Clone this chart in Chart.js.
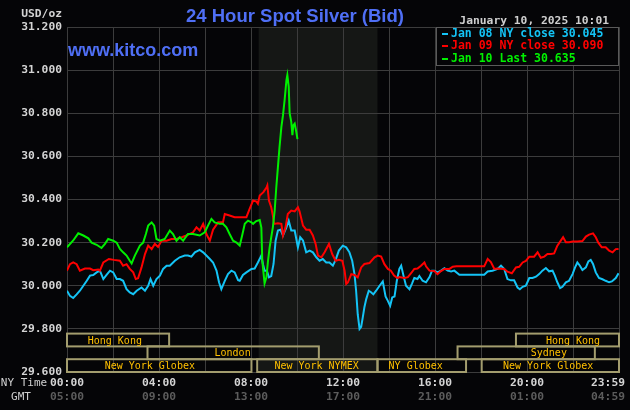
<!DOCTYPE html>
<html><head><meta charset="utf-8">
<script src="https://cdn.jsdelivr.net/npm/chart.js@4.4.1/dist/chart.umd.min.js"></script>
<style>html,body{margin:0;padding:0;background:#050507;}canvas{display:block}</style>
</head><body>
<canvas id="c" width="630" height="410"></canvas>
<script>
// ---- data (hours after midnight NY time, price USD/oz) ----
const jan08Hours = [0.00,0.13,0.27,0.42,0.56,0.71,0.86,1.00,1.14,1.29,1.43,1.58,1.72,1.87,2.01,2.16,2.30,2.44,2.59,2.73,2.88,3.03,3.24,3.39,3.53,3.63,3.75,3.89,4.04,4.18,4.33,4.47,4.69,4.90,5.12,5.26,5.41,5.56,5.77,5.92,6.06,6.21,6.35,6.50,6.61,6.71,6.86,7.00,7.15,7.29,7.44,7.51,7.65,7.80,8.02,8.16,8.30,8.45,8.52,8.59,8.69,8.78,8.88,8.98,9.07,9.17,9.28,9.39,9.54,9.64,9.75,9.90,10.04,10.14,10.26,10.40,10.55,10.69,10.84,10.98,11.12,11.27,11.41,11.56,11.68,11.82,11.99,12.14,12.28,12.40,12.50,12.57,12.64,12.72,12.79,12.86,12.93,13.01,13.12,13.22,13.32,13.44,13.59,13.73,13.85,13.95,14.05,14.14,14.24,14.34,14.45,14.53,14.63,14.74,14.89,15.00,15.10,15.24,15.32,15.46,15.61,15.76,15.87,15.97,16.11,16.26,16.41,16.55,16.70,16.84,17.06,17.35,17.78,18.14,18.29,18.50,18.72,18.87,19.01,19.15,19.30,19.44,19.59,19.69,19.81,19.95,20.10,20.24,20.39,20.53,20.67,20.82,20.96,21.11,21.21,21.32,21.44,21.54,21.69,21.83,21.98,22.09,22.19,22.30,22.41,22.56,22.67,22.77,22.87,22.99,23.13,23.28,23.42,23.57,23.69,23.86,23.98];
const jan08Values = [29.977,29.953,29.943,29.960,29.977,30.000,30.023,30.047,30.050,30.062,30.070,30.031,30.050,30.070,30.062,30.031,30.031,30.023,29.984,29.969,29.961,29.977,29.992,29.977,30.000,30.031,30.000,30.031,30.047,30.078,30.093,30.093,30.116,30.132,30.140,30.140,30.135,30.155,30.166,30.155,30.140,30.124,30.108,30.070,30.016,29.984,30.023,30.054,30.070,30.062,30.026,30.023,30.050,30.062,30.078,30.080,30.108,30.140,30.100,30.070,30.070,30.039,30.045,30.101,30.209,30.256,30.260,30.233,30.271,30.302,30.256,30.256,30.178,30.225,30.210,30.155,30.163,30.155,30.132,30.116,30.124,30.108,30.108,30.093,30.120,30.163,30.186,30.178,30.155,30.116,30.054,29.977,29.868,29.800,29.810,29.853,29.900,29.938,29.977,29.970,29.960,29.977,30.000,30.020,29.950,29.930,29.907,29.946,29.950,30.023,30.078,30.093,30.047,30.000,29.984,30.010,30.036,30.031,30.045,30.023,30.016,30.040,30.070,30.070,30.062,30.070,30.081,30.070,30.066,30.070,30.051,30.051,30.051,30.051,30.066,30.070,30.078,30.093,30.078,30.031,30.025,30.025,29.992,29.984,29.995,30.000,30.036,30.036,30.042,30.054,30.070,30.082,30.067,30.070,30.047,30.016,29.989,29.995,30.016,30.023,30.054,30.085,30.108,30.093,30.073,30.085,30.113,30.120,30.101,30.062,30.036,30.030,30.023,30.016,30.020,30.036,30.058];

const jan09Hours = [0.00,0.13,0.27,0.42,0.56,0.78,1.00,1.14,1.36,1.43,1.58,1.82,2.04,2.30,2.44,2.59,2.73,2.88,2.99,3.09,3.24,3.39,3.53,3.68,3.82,3.96,4.11,4.33,4.54,4.77,4.99,5.19,5.48,5.63,5.77,5.92,6.06,6.21,6.35,6.57,6.78,6.86,7.07,7.29,7.58,7.80,7.94,8.09,8.24,8.30,8.38,8.54,8.68,8.71,8.78,8.88,8.95,9.00,9.17,9.32,9.39,9.50,9.60,9.75,9.90,10.04,10.11,10.26,10.40,10.55,10.69,10.81,10.91,11.06,11.20,11.39,11.53,11.68,11.82,11.97,12.07,12.14,12.21,12.36,12.50,12.64,12.79,12.93,13.15,13.37,13.51,13.66,13.80,13.95,14.08,14.22,14.37,14.45,14.67,14.82,14.96,15.10,15.24,15.39,15.54,15.61,15.76,15.97,16.11,16.26,16.41,16.63,16.77,16.93,17.21,17.49,17.92,18.14,18.29,18.43,18.58,18.72,19.01,19.15,19.34,19.52,19.66,19.81,19.95,20.10,20.31,20.46,20.60,20.75,20.89,21.04,21.18,21.32,21.47,21.57,21.69,21.83,21.98,22.19,22.41,22.56,22.70,22.87,22.99,23.10,23.25,23.42,23.57,23.72,23.86,23.98];
const jan09Values = [30.070,30.100,30.108,30.100,30.070,30.080,30.080,30.072,30.075,30.070,30.108,30.124,30.120,30.116,30.093,30.100,30.078,30.062,30.031,30.035,30.085,30.147,30.186,30.170,30.194,30.180,30.209,30.209,30.217,30.217,30.225,30.233,30.248,30.271,30.256,30.287,30.240,30.209,30.260,30.294,30.294,30.333,30.326,30.318,30.318,30.318,30.357,30.395,30.390,30.380,30.418,30.434,30.457,30.465,30.395,30.364,30.326,30.287,30.290,30.287,30.233,30.271,30.333,30.349,30.345,30.364,30.345,30.279,30.260,30.260,30.233,30.194,30.140,30.132,30.155,30.194,30.147,30.116,30.120,30.116,30.070,30.008,30.015,30.054,30.050,30.039,30.085,30.101,30.105,30.132,30.140,30.135,30.100,30.078,30.070,30.047,30.036,30.040,30.036,30.040,30.058,30.078,30.080,30.093,30.108,30.090,30.070,30.068,30.054,30.068,30.078,30.078,30.088,30.090,30.090,30.090,30.090,30.090,30.124,30.110,30.078,30.080,30.078,30.065,30.058,30.085,30.088,30.108,30.115,30.135,30.135,30.155,30.130,30.135,30.147,30.147,30.150,30.186,30.209,30.225,30.202,30.202,30.205,30.205,30.207,30.228,30.237,30.243,30.225,30.200,30.178,30.178,30.163,30.155,30.170,30.171];

const jan10Hours = [0.00,0.27,0.49,0.71,0.93,1.07,1.29,1.50,1.65,1.79,2.01,2.16,2.30,2.44,2.59,2.73,2.81,2.95,3.17,3.31,3.43,3.53,3.68,3.79,3.89,4.04,4.25,4.47,4.61,4.76,4.90,5.05,5.26,5.48,5.77,5.99,6.13,6.28,6.42,6.64,6.78,6.93,7.07,7.22,7.37,7.51,7.63,7.73,7.87,8.02,8.09,8.23,8.38,8.45,8.49,8.55,8.59,8.67,8.74,8.81,8.88,8.95,9.03,9.10,9.17,9.24,9.32,9.39,9.46,9.54,9.58,9.64,9.68,9.75,9.80,9.84,9.90,9.97,10.02];
const jan10Values = [30.178,30.210,30.243,30.233,30.220,30.200,30.190,30.175,30.194,30.217,30.209,30.200,30.171,30.155,30.140,30.116,30.104,30.140,30.186,30.200,30.240,30.279,30.294,30.279,30.217,30.209,30.217,30.256,30.240,30.209,30.225,30.209,30.240,30.240,30.233,30.248,30.279,30.310,30.294,30.287,30.287,30.271,30.240,30.209,30.200,30.186,30.240,30.287,30.302,30.294,30.287,30.300,30.305,30.270,30.116,30.054,30.011,30.039,30.116,30.178,30.225,30.271,30.349,30.457,30.550,30.643,30.736,30.790,30.860,30.953,30.977,30.922,30.800,30.760,30.698,30.744,30.752,30.713,30.680];

const seriesNames = ['Jan 08 NY close 30.045', 'Jan 09 NY close 30.090', 'Jan 10 Last 30.635'];
const seriesColors = ['#14c4f6', '#ff0000', '#00f000'];

const gridHours = [0,2,4,6,8,10,12,14,16,18,20,22,24];
const labelHours = [0,4,8,12,16,20];
const nyTimeLabels = ['00:00','04:00','08:00','12:00','16:00','20:00','23:59'];
const gmtLabels = ['05:00','09:00','13:00','17:00','21:00','01:00','04:59'];

const nymexStart = 8.333, nymexEnd = 13.5;

const sessionNames = ['Hong Kong','London','New York Globex','New York NYMEX','NY Globex','New York Globex','Hong Kong','Sydney'];
const sessionStart = [0, 3.5, 0, 8.27, 13.5, 18.03, 19.52, 16.98];
const sessionEnd   = [4.44, 10.95, 8.02, 13.5, 17.35, 24, 24, 22.95];
const sessionRow   = [0, 1, 2, 2, 2, 2, 0, 1];
const sessionLabelAt = [2.08, 7.2, 3.6, 10.85, 15.16, 20.92, 22.0, 20.95];

const MONO = '"DejaVu Sans Mono", monospace';
const SANS = '"Liberation Sans", Arial, sans-serif';

function pts(h, v) { return h.map((x, i) => ({x: x, y: v[i]})); }

const bgPlugin = {
  id: 'bg',
  beforeDraw(chart) {
    const c = chart.ctx, a = chart.chartArea, xs = chart.scales.x;
    c.save();
    c.fillStyle = '#050507';
    c.fillRect(0, 0, chart.width, chart.height);
    const x1 = xs.getPixelForValue(nymexStart), x2 = xs.getPixelForValue(nymexEnd);
    c.fillStyle = '#151715';
    c.fillRect(x1, a.top, x2 - x1, a.bottom - a.top);
    c.restore();
  }
};

const overlayPlugin = {
  id: 'overlay',
  afterDraw(chart) {
    const c = chart.ctx, a = chart.chartArea, xs = chart.scales.x;
    c.save();
    // market session boxes
    const rowH = 12.8;
    c.textAlign = 'center';
    c.textBaseline = 'middle';
    c.font = '10px ' + MONO;
    for (let i = 0; i < sessionNames.length; i++) {
      const x1 = xs.getPixelForValue(sessionStart[i]);
      const x2 = xs.getPixelForValue(sessionEnd[i]);
      const top = a.bottom - (3 - sessionRow[i]) * rowH;
      c.strokeStyle = '#a39d6e';
      c.lineWidth = 2;
      c.strokeRect(x1, top, x2 - x1, rowH);
      c.fillStyle = '#ffc000';
      c.fillText(sessionNames[i], xs.getPixelForValue(sessionLabelAt[i]), top + rowH / 2 + 1);
    }
    // legend box
    const lw = 183, lh = 39, lx = a.right - lw, ly = a.top;
    c.fillStyle = '#050507';
    c.fillRect(lx, ly, lw, lh);
    c.strokeStyle = '#5a5a5a';
    c.lineWidth = 1;
    c.strokeRect(lx + 0.5, ly + 0.5, lw - 1, lh - 1);
    c.font = 'bold 11.5px ' + MONO;
    c.textAlign = 'left';
    const rowsY = [34, 46, 59];
    for (let i = 0; i < seriesNames.length; i++) {
      c.fillStyle = seriesColors[i];
      c.fillRect(lx + 6, rowsY[i] - 1, 6, 2);
      c.fillText(seriesNames[i], lx + 15, rowsY[i]);
    }
    // titles
    c.textBaseline = 'alphabetic';
    c.font = 'bold 18.5px ' + SANS;
    c.fillStyle = '#4f6ff5';
    c.textAlign = 'center';
    c.fillText('24 Hour Spot Silver (Bid)', 295, 22);
    c.font = 'bold 18px ' + SANS;
    c.textAlign = 'left';
    c.fillText('www.kitco.com', 68, 56);
    c.font = 'bold 11.3px ' + MONO;
    c.fillStyle = '#cfcfcf';
    c.textAlign = 'right';
    c.fillText('January 10, 2025 10:01', 609, 24);
    c.fillStyle = '#d4d4d4';
    c.fillText('USD/oz', 62, 17);
    // x labels
    c.textBaseline = 'middle';
    c.textAlign = 'center';
    for (let i = 0; i < labelHours.length; i++) {
      const x = xs.getPixelForValue(labelHours[i]);
      c.fillStyle = '#d4d4d4';
      c.fillText(nyTimeLabels[i], x, 383);
      c.fillStyle = '#5c5c5c';
      c.fillText(gmtLabels[i], x, 397.5);
    }
    c.textAlign = 'right';
    c.fillStyle = '#d4d4d4';
    c.fillText(nyTimeLabels[6], a.right + 6, 383);
    c.fillStyle = '#5c5c5c';
    c.fillText(gmtLabels[6], a.right + 6, 397.5);
    c.textAlign = 'center';
    c.font = '11px ' + MONO;
    c.fillStyle = '#cfcfcf';
    c.fillText('NY Time', 24, 383);
    c.fillText('GMT', 21, 397.5);
    c.restore();
  }
};

new Chart(document.getElementById('c'), {
  type: 'line',
  data: {
    datasets: [
      {label: seriesNames[0], data: pts(jan08Hours, jan08Values), borderColor: seriesColors[0], borderWidth: 2, pointRadius: 0, tension: 0, order: 3},
      {label: seriesNames[1], data: pts(jan09Hours, jan09Values), borderColor: seriesColors[1], borderWidth: 2, pointRadius: 0, tension: 0, order: 2},
      {label: seriesNames[2], data: pts(jan10Hours, jan10Values), borderColor: seriesColors[2], borderWidth: 2, pointRadius: 0, tension: 0, order: 1}
    ]
  },
  options: {
    responsive: false,
    animation: false,
    devicePixelRatio: 1,
    layout: {padding: {left: 0, top: 27, right: 11, bottom: 0}},
    plugins: {legend: {display: false}, tooltip: {enabled: false}},
    scales: {
      x: {
        type: 'linear', min: 0, max: 24,
        afterFit(s) { s.height = 38; },
        afterBuildTicks(s) { s.ticks = gridHours.map(v => ({value: v})); },
        ticks: {display: false},
        grid: {color: '#3c3c3c', lineWidth: 1, drawTicks: false},
        border: {display: false}
      },
      y: {
        type: 'linear', min: 29.6, max: 31.2,
        afterFit(s) { s.width = 67; },
        ticks: {stepSize: 0.2, color: '#d4d4d4', padding: 5, font: {family: MONO, size: 11.3, weight: 'bold'}, callback: v => v.toFixed(3)},
        grid: {color: '#3c3c3c', lineWidth: 1, drawTicks: false},
        border: {display: false}
      }
    }
  },
  plugins: [bgPlugin, overlayPlugin]
});
</script>
</body></html>
